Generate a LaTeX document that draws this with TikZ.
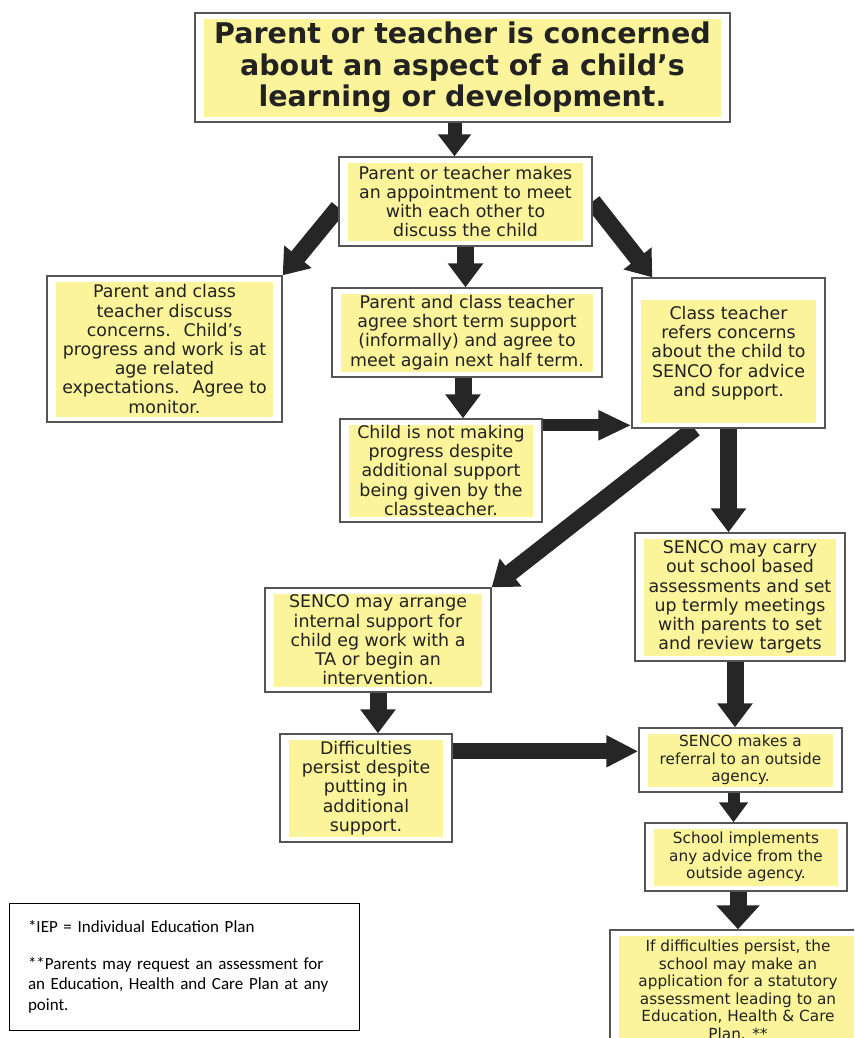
\documentclass[tikz,border=0pt]{standalone}
\usepackage{fontspec}
\setmainfont{DejaVu Sans}
\newfontfamily\notefont{Carlito}
\usepackage{tikz}
\usepackage{xcolor}
\usetikzlibrary{arrows.meta, positioning, calc, backgrounds}
\definecolor{HL_Yellow}{HTML}{FBF49B}
\definecolor{Frame_Gray}{HTML}{555555}
\definecolor{Arrow_Dark}{HTML}{262626}
\definecolor{Ink_Dark}{HTML}{222222}

\def\hltop{6pt}
\tikzset{
    hl top/.code={\def\hltop{#1}},
    stage/.style={draw=Frame_Gray, line width=1.4pt, fill=white, inner sep=0pt,
        align=center, text=Ink_Dark, font=\fontsize{17.4}{19.2}\selectfont,
        path picture={\fill[HL_Yellow]
            ([shift={(9pt,5pt)}]path picture bounding box.south west) rectangle
            ([shift={(-9pt,-\hltop)}]path picture bounding box.north east);}},
    small stage/.style={stage, font=\fontsize{15.3}{17.5}\selectfont},
    flow/.style={draw=Arrow_Dark, line width=17pt, -{Triangle[width=34pt,length=24pt]}},
    thin flow/.style={draw=Arrow_Dark, line width=12pt, -{Triangle[width=28pt,length=20pt]}},
    notes/.style={draw=black, line width=1pt, inner sep=0pt, align=left,
        font=\notefont\fontsize{17}{20.5}\selectfont}
}

\begin{document}
\begin{tikzpicture}[x=1pt, y=-1pt]

    \useasboundingbox (0,0) rectangle (854,1038);
    \clip (0,0) rectangle (854,1038);

    % === Top of the chart ===
    \node[stage, font=\bfseries\fontsize{28.5}{31.5}\selectfont,
        minimum width=535pt, minimum height=109pt] (concern) at (462.5,67.5)
        {Parent or teacher is concerned\\about an aspect of a child’s\\learning or development.};
    \node[stage, minimum width=253pt, minimum height=89pt] (appt) at (465.5,201.5)
        {Parent or teacher makes\\an appointment to meet\\with each other to\\discuss the child};

    % === Three ways out of the meeting ===
    \node[stage, minimum width=235pt, minimum height=146pt] (monitor) at (164.5,349)
        {Parent and class\\teacher discuss\\concerns.~ Child’s\\progress and work is at\\age related\\expectations.~ Agree to\\monitor.};
    \node[stage, minimum width=270pt, minimum height=89pt] (shortterm) at (467,332.5)
        {Parent and class teacher\\agree short term support\\(informally) and agree to\\meet again next half term.};
    \node[stage, hl top=22pt, minimum width=193pt, minimum height=150pt] (refer) at (728.5,353)
        {Class teacher\\refers concerns\\about the child to\\SENCO for advice\\and support.};
    \node[stage, minimum width=202pt, minimum height=103pt] (noprogress) at (441,470.5)
        {Child is not making\\progress despite\\additional support\\being given by the\\classteacher.};

    % === SENCO steps ===
    \node[stage, minimum width=210pt, minimum height=128pt] (assess) at (740,597)
        {SENCO may carry\\out school based\\assessments and set\\up termly meetings\\with parents to set\\and review targets};
    \node[stage, minimum width=226pt, minimum height=104pt] (internal) at (378,640)
        {SENCO may arrange\\internal support for\\child eg work with a\\TA or begin an\\intervention.};
    \node[stage, minimum width=172pt, minimum height=108pt] (persist) at (366,788)
        {Difficulties\\persist despite\\putting in\\additional\\support.};

    % === Outside agency ===
    \node[small stage, minimum width=203pt, minimum height=64pt] (referral) at (740.5,760)
        {SENCO makes a\\referral to an outside\\agency.};
    \node[small stage, minimum width=202pt, minimum height=68pt] (implement) at (746,857)
        {School implements\\any advice from the\\outside agency.};
    \node[small stage, minimum width=256pt, minimum height=120pt] (statutory) at (738,990)
        {If difficulties persist, the\\school may make an\\application for a statutory\\assessment leading to an\\Education, Health \& Care\\Plan. **};

    % Footnotes
    \node[notes, minimum width=350pt, minimum height=127pt, text width=312pt] (footnotes) at (184,966.5)
        {*IEP = Individual Education Plan\\[16.5pt]**Parents may request an assessment for\\an Education, Health and Care Plan at any\\point.};

    % === Arrows, under the boxes ===
    \begin{scope}[on background layer]
        \draw[flow, line width=14pt, -{Triangle[width=32pt,length=22pt]}]
            ($(concern.south)+(-8,0)$) -- ($(appt.north)+(-11,0)$);
        \draw[flow] ($(appt.west)+(0,6)$) -- (monitor.north east);
        \draw[flow] (appt.south) -- (appt.south |- shortterm.north);
        \draw[flow] (appt.east) -- ($(refer.north west)+(21,0)$);

        \coordinate (a5) at ($(shortterm.south)+(-4,0)$);
        \draw[flow] (a5) -- (a5 |- noprogress.north);
        \coordinate (a6) at ($(noprogress.north east)+(0,7)$);
        \draw[thin flow, -{Triangle[width=28pt,length=33pt]}] (a6) -- (a6 -| refer.west);

        \draw[flow] ($(refer.south)+(-34,0)$) -- (internal.north east);
        \draw[flow] (refer.south) -- (refer.south |- assess.north);
        \draw[flow] (internal.south) -- (internal.south |- persist.north);
        \coordinate (a10) at ($(assess.south)+(-5,0)$);
        \draw[flow] (a10) -- (a10 |- referral.north);

        \coordinate (a11) at ($(persist.north east)+(0,18)$);
        \draw[flow, line width=16pt, -{Triangle[width=30pt,length=32pt]}] (a11) -- (a11 -| referral.west);
        \coordinate (a12) at ($(referral.south)+(-7,0)$);
        \draw[thin flow] (a12) -- (a12 |- implement.north);
        \draw[flow, -{Triangle[width=42pt,length=24pt]}] (statutory.north |- implement.south) -- (statutory.north);
    \end{scope}

\end{tikzpicture}
\end{document}
